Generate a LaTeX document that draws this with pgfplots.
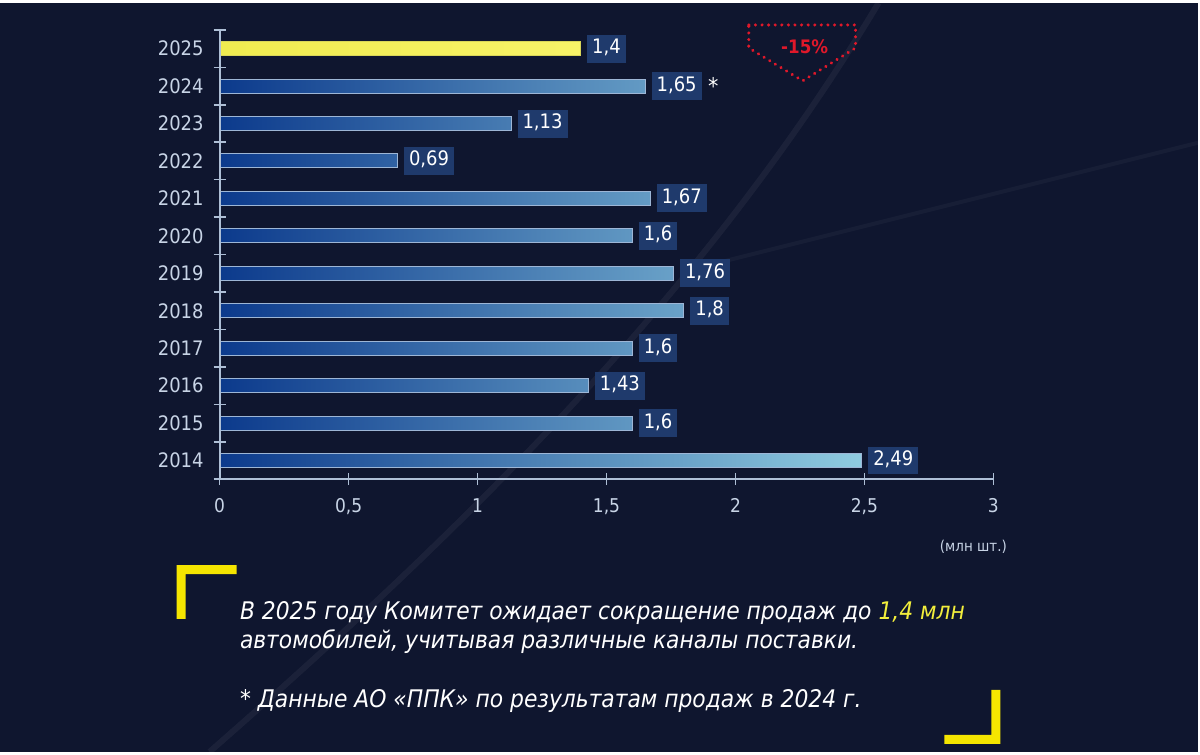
\documentclass[border=0pt]{standalone}
\usepackage{fontspec}
\setmainfont{DejaVu Sans Condensed}
\usepackage{pgfplots}
\pgfplotsset{compat=1.18}
\definecolor{bg}{HTML}{0F162F}
\definecolor{axisc}{HTML}{AEBFD6}
\definecolor{tickc}{HTML}{C8D4E6}
\definecolor{barL}{HTML}{0C3A8C}
\definecolor{barR}{HTML}{8FCBE0}
\definecolor{barline}{HTML}{9DB6D6}
\definecolor{lblbg}{HTML}{1F3A6C}
\definecolor{ybarL}{HTML}{F0EC50}
\definecolor{ybarR}{HTML}{F7F368}
\definecolor{brk}{HTML}{F5E500}
\definecolor{redc}{HTML}{E0182A}
\definecolor{hl}{HTML}{F2EE3C}
\begin{document}
\begin{tikzpicture}
\begin{scope}[x=0.5pt,y=-0.5pt,yshift=375pt]
  \fill[bg] (0,0) rectangle (1200,750);
  \draw[white,opacity=0.05,line width=3pt] (210,750) .. controls (450,540) and (700,300) .. (880,0);
  \draw[white,opacity=0.035,line width=2pt] (700,265) -- (1200,140);
\end{scope}
\begin{axis}[
  at={(110pt,136.5pt)}, anchor=south west,
  scale only axis, width=387.5pt, height=225pt,
  xmin=0, xmax=3, ymin=-0.5, ymax=11.5,
  axis x line=bottom, axis y line=left,
  axis line style={-, draw=axisc, line width=0.9pt},
  xtick={0,0.5,1,1.5,2,2.5,3},
  ytick={0,...,11},
  yticklabels={2014,2015,2016,2017,2018,2019,2020,2021,2022,2023,2024,2025},
  minor ytick={-0.5,0.5,1.5,2.5,3.5,4.5,5.5,6.5,7.5,8.5,9.5,10.5,11.5},
  tick align=center, major tick length=6pt, minor tick length=6pt,
  tick style={draw=axisc, line width=0.8pt},
  major y tick style={draw=none},
  /pgf/number format/assume math mode=true,
  /pgf/number format/use comma,
  xticklabel style={font=\fontsize{9.5pt}{11pt}\selectfont, text=tickc, yshift=-3pt},
  yticklabel style={font=\fontsize{10pt}{12pt}\selectfont, text=tickc, xshift=-1.5pt},
  clip=false,
  point meta=x,
  nodes near coords,
  every node near coord/.style={anchor=west, xshift=3pt, fill=lblbg, text=white,
     font=\fontsize{10pt}{11pt}\selectfont, text height=7.5pt, text depth=2.5pt,
     inner ysep=2pt, inner xsep=2.5pt},
]
\addplot[xbar, bar width=7pt, bar shift=0pt, draw=barline, line width=0.5pt,
  left color=barL, right color=barR]
  coordinates {(2.49,0) (1.6,1) (1.43,2) (1.6,3) (1.8,4) (1.76,5) (1.6,6) (1.67,7) (0.69,8) (1.13,9) (1.65,10)};
\addplot[xbar, bar width=7pt, bar shift=0pt, draw=ybarL!80!gray, line width=0.5pt,
  left color=ybarL, right color=ybarR]
  coordinates {(1.4,11)};
\draw[axisc, line width=1pt] (axis cs:0,-0.5) -- (axis cs:0,11.5);
\node[anchor=west, xshift=28pt, text=white, font=\fontsize{11.5pt}{12pt}\selectfont\itshape] at (axis cs:1.65,10) {*};
\end{axis}
\begin{scope}[x=0.5pt,y=-0.5pt,yshift=375pt]
  % -15% badge
  \draw[redc, line width=1.6pt, dash pattern=on 0.1pt off 3.2pt, line cap=round]
    (750,22) -- (857,22) -- (857,45) -- (804,78) -- (750,45) -- cycle;
  \node[text=redc, font=\fontsize{9.3pt}{10pt}\selectfont\bfseries] at (806,44) {-15\%};
  \node[text=tickc, font=\fontsize{7.5pt}{9pt}\selectfont] at (975,545) {(млн шт.)};
  % brackets
  \fill[brk] (177,563) -- (237,563) -- (237,572) -- (186,572) -- (186,617) -- (177,617) -- cycle;
  \fill[brk] (1002,742) -- (946,742) -- (946,733) -- (993,733) -- (993,688) -- (1002,688) -- cycle;
  % text
  \node[anchor=base west, inner sep=0pt, text=white, font=\fontsize{12.15pt}{14pt}\selectfont\itshape] at (240,618)
    {В 2025 году Комитет ожидает сокращение продаж до \textcolor{hl}{1,4 млн}};
  \node[anchor=base west, inner sep=0pt, text=white, font=\fontsize{12.15pt}{14pt}\selectfont\itshape] at (240,647)
    {автомобилей, учитывая различные каналы поставки.};
  \node[anchor=base west, inner sep=0pt, text=white, font=\fontsize{12.15pt}{14pt}\selectfont\itshape] at (240,706)
    {* Данные АО «ППК» по результатам продаж в 2024 г.};
\end{scope}
\end{tikzpicture}
\end{document}
